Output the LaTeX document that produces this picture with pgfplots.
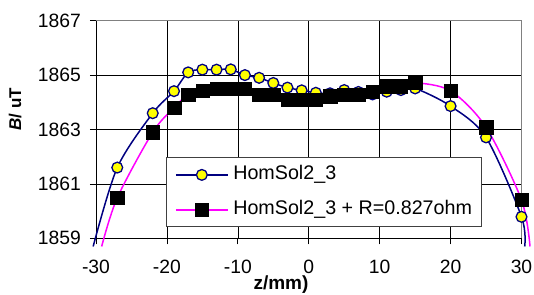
\documentclass[border=0pt]{standalone}
\usepackage{fontspec}
\setmainfont{Liberation Sans}
\usepackage{pgfplots}
\pgfplotsset{compat=1.18}
\definecolor{navyc}{RGB}{0,0,128}
\definecolor{magc}{RGB}{255,0,255}
\definecolor{yelc}{RGB}{255,255,0}
\begin{document}
\begin{tikzpicture}
\begin{axis}[
  scale only axis, width=425.5pt, height=217.6pt,
  xmin=-30, xmax=30, ymin=1859, ymax=1867,
  xtick={-30,-20,-10,0,10,20,30},
  xticklabels={-30,-20,-10,0,10,20,30},
  ytick={1859,1861,1863,1865,1867},
  yticklabels={1859,1861,1863,1865,1867},
  axis x line*=bottom, axis y line*=left,
  tick align=outside, major tick length=6pt,
  tick style={black, line width=0.8pt},
  axis line style={black, line width=0.9pt},
  grid=major, major grid style={black, line width=0.6pt},
  ticklabel style={font=\fontsize{19.3}{22}\selectfont, inner sep=0pt},
  xticklabel style={yshift=-16pt},
  yticklabel style={xshift=-9pt},
  xlabel={\textbf{z/mm)}},
  xlabel style={at={(rel axis cs:0.4348,-0.2150)}, anchor=center, font=\fontsize{19}{22}\selectfont},
  ylabel={\textbf{\textit{B}/ uT}},
  ylabel style={at={(rel axis cs:-0.190,0.594)}, anchor=center, rotate=0, font=\fontsize{17}{20}\selectfont},
  clip=false,
  legend cell align=left,
  legend image code/.code={\draw[mark repeat=2,mark phase=2,#1] plot coordinates {(0pt,0pt) (26pt,0pt) (52pt,0pt)};},
  legend style={at={(rel axis cs:0.1638,0.0506)}, anchor=south west,
    draw=black!75, line width=0.8pt, fill=white,
    font=\fontsize{19.7}{22}\selectfont,
    inner xsep=9pt, inner ysep=8pt, row sep=17pt, column sep=4.7pt,
    nodes={inner sep=0pt, text height=14pt, text depth=4pt}},
]
\addlegendimage{navyc, line width=1.5pt, mark=*, mark size=5.4pt, mark options={fill=yelc, draw=navyc, line width=1.3pt}}
\addlegendentry{HomSol2\_3}
\addlegendimage{magc, line width=1.5pt, mark=square*, mark size=6.7pt, mark options={fill=black, draw=black, line width=0.3pt}}
\addlegendentry{HomSol2\_3 + R=0.827ohm}

% smoothed line through the HomSol2_3 points
\addplot[navyc, line width=1.5pt, smooth, forget plot] coordinates {
(-30.4,1858.7) (-27,1861.60) (-22,1863.60) (-19,1864.41) (-17,1865.10) (-15,1865.20)
(-13,1865.20) (-11,1865.21) (-9,1865.00) (-7,1864.90) (-5,1864.71) (-3,1864.54)
(-1,1864.44) (1,1864.35) (3,1864.33) (5,1864.45) (7,1864.38) (9,1864.29)
(11,1864.39) (13,1864.45) (15,1864.51) (20,1863.86) (25,1862.71) (30,1859.79) (30.45,1858.7)};
\addplot[only marks, mark=*, mark size=5.4pt, mark options={fill=yelc, draw=navyc, line width=1.3pt}, forget plot] coordinates {
(-27,1861.60) (-22,1863.60) (-19,1864.41) (-17,1865.10) (-15,1865.20)
(-13,1865.20) (-11,1865.21) (-9,1865.00) (-7,1864.90) (-5,1864.71) (-3,1864.54)
(-1,1864.44) (1,1864.35) (3,1864.33) (5,1864.45) (7,1864.38) (9,1864.29)
(11,1864.39) (13,1864.45) (15,1864.51) (20,1863.86) (25,1862.71) (30,1859.79)};

% smoothed line through the corrected points
\addplot[magc, line width=1.5pt, smooth, forget plot] coordinates {
(-29.2,1858.7) (-27,1860.49) (-22,1862.90) (-19,1863.80) (-17,1864.29) (-15,1864.42)
(-13,1864.50) (-11,1864.50) (-9,1864.50) (-7,1864.28) (-5,1864.28) (-3,1864.10)
(-1,1864.10) (1,1864.10) (3,1864.22) (5,1864.29) (7,1864.29) (9,1864.40)
(11,1864.59) (13,1864.59) (15,1864.72) (20,1864.42) (25,1863.08) (30,1860.41) (31.2,1858.7)};
\addplot[only marks, mark=square*, mark size=6.7pt, mark options={fill=black, draw=black, line width=0.3pt}, forget plot] coordinates {
(-27,1860.49) (-22,1862.90) (-19,1863.80) (-17,1864.29) (-15,1864.42)
(-13,1864.50) (-11,1864.50) (-9,1864.50) (-7,1864.28) (-5,1864.28) (-3,1864.10)
(-1,1864.10) (1,1864.10) (3,1864.22) (5,1864.29) (7,1864.29) (9,1864.40)
(11,1864.59) (13,1864.59) (15,1864.72) (20,1864.42) (25,1863.08) (30,1860.41)};

\draw[black!50, line width=1.2pt] (rel axis cs:0,1) -- (rel axis cs:1,1) -- (rel axis cs:1,0);
\end{axis}
\pgfresetboundingbox
\path[use as bounding box] (-96pt,-55.7pt) rectangle (438pt,238.3pt);
\end{tikzpicture}
\end{document}
